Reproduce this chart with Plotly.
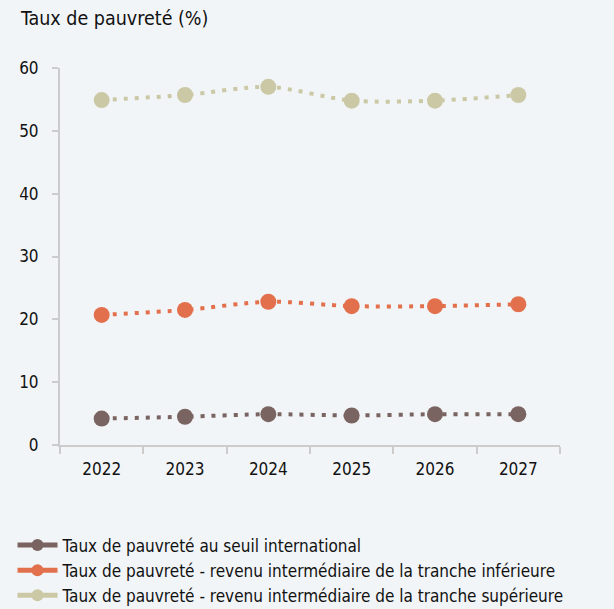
import plotly.graph_objects as go

years = ["2022", "2023", "2024", "2025", "2026", "2027"]
seuil_international = [4.2, 4.5, 4.9, 4.7, 4.9, 4.9]
tranche_inferieure = [20.7, 21.5, 22.8, 22.1, 22.1, 22.4]
tranche_superieure = [54.9, 55.7, 57.0, 54.8, 54.8, 55.7]

series_names = [
    "Taux de pauvreté au seuil international",
    "Taux de pauvreté - revenu intermédiaire de la tranche inférieure",
    "Taux de pauvreté - revenu intermédiaire de la tranche supérieure",
]
series_values = [seuil_international, tranche_inferieure, tranche_superieure]
colors = ["#7a6462", "#e2704d", "#cbc8a6"]

FONT = "DejaVu Sans Condensed, Liberation Sans Narrow, Roboto, sans-serif"
BG = "#f2f5f7"
AXIS = "#cccccc"

fig = go.Figure()
for name, vals, col in zip(series_names, series_values, colors):
    # dotted spline for the data
    fig.add_trace(go.Scatter(
        x=years, y=vals, name=name, mode="lines+markers", showlegend=False,
        line=dict(color=col, width=4, dash="4px,7px", shape="spline", smoothing=0.8),
        marker=dict(color=col, size=16),
    ))
    # solid legend key
    fig.add_trace(go.Scatter(
        x=[None], y=[None], name=name, mode="lines+markers",
        line=dict(color=col, width=5),
        marker=dict(color=col, size=12),
    ))

fig.update_layout(
    width=614, height=609,
    paper_bgcolor=BG, plot_bgcolor=BG,
    font=dict(family=FONT, size=17, color="#111111"),
    margin=dict(l=60, r=54, t=68, b=164, autoexpand=False),
    showlegend=True,
    legend=dict(
        x=-0.095, y=-0.219, xanchor="left", yanchor="top",
        orientation="v", bgcolor="rgba(0,0,0,0)",
        font=dict(family=FONT, size=17, color="#111111"),
        tracegroupgap=0, itemwidth=40,
    ),
    annotations=[dict(
        text="Taux de pauvreté (%)", xref="paper", yref="paper",
        x=-0.085, y=1.0, xanchor="left", yanchor="bottom", yshift=36,
        showarrow=False, font=dict(family=FONT, size=19.5, color="#111111"),
    )],
)
fig.update_xaxes(
    type="category", range=[-0.5, 5.5], tickson="boundaries",
    showline=True, linecolor=AXIS, linewidth=2,
    ticks="outside", ticklen=7, tickwidth=2, tickcolor=AXIS,
    showgrid=False, zeroline=False, ticklabelstandoff=8,
)
fig.update_yaxes(
    range=[0, 60], tickvals=[0, 10, 20, 30, 40, 50, 60],
    showline=True, linecolor=AXIS, linewidth=2,
    ticks="outside", ticklen=6, tickwidth=2, tickcolor=AXIS,
    showgrid=False, zeroline=False, ticklabelstandoff=10,
)

fig.write_html("out.html")
